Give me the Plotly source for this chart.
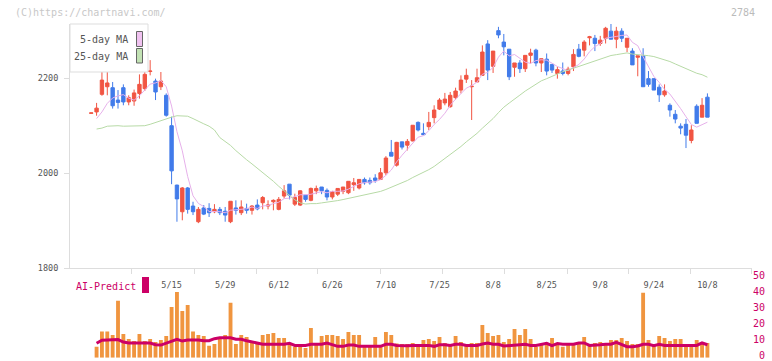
import plotly.graph_objects as go

W, H = 772, 361

# ---------------- data ----------------
opens  = [2126,2129,2166,2182,2180,2154,2180,2150,2152,2168,2178,2214,2194,2182,2164,2100,1975,1919,1969,1931,
          1898,1927,1926,1919,1924,1920,1898,1927,1917,1926,1922,1933,1938,1931,1940,1924,1952,1977,1935,1933,
          1954,1943,1963,1971,1964,1950,1956,1962,1959,1976,1969,1987,1985,1990,1987,2001,2044,2017,2066,2059,
          2068,2107,2084,2098,2117,2135,2148,2140,2159,2175,2198,2182,2192,2206,2272,2225,2300,2276,2261,2223,
          2232,2220,2248,2259,2232,2240,2229,2210,2215,2210,2224,2261,2259,2285,2284,2273,2284,2299,2282,2299,
          2265,2257,2244,2247,2199,2199,2181,2165,2143,2124,2099,2103,2069,2141,2118,2160]
highs  = [2127,2148,2215,2215,2192,2175,2187,2164,2176,2208,2215,2238,2199,2213,2168,2119,1976,1971,1971,1940,
          1929,1933,1937,1935,1929,1929,1941,1943,1943,1936,1933,1945,1952,1943,1945,1950,1975,1977,1957,1964,
          1954,1970,1974,1971,1968,1963,1968,1971,1983,1990,1987,1991,1991,1998,2011,2036,2070,2066,2066,2072,
          2101,2109,2105,2129,2143,2158,2169,2171,2180,2206,2220,2196,2220,2269,2280,2257,2308,2293,2261,2232,
          2238,2248,2262,2262,2241,2252,2229,2224,2233,2224,2261,2272,2280,2289,2291,2289,2308,2314,2308,2305,
          2284,2263,2247,2263,2215,2199,2187,2187,2147,2133,2105,2114,2101,2145,2158,2168]
lows   = [2126,2121,2163,2164,2136,2136,2143,2143,2142,2157,2173,2206,2154,2175,2119,1977,1898,1901,1915,1912,
          1895,1912,1908,1916,1912,1898,1895,1913,1912,1915,1913,1922,1924,1924,1922,1922,1947,1945,1931,1931,
          1940,1941,1956,1956,1943,1945,1952,1956,1956,1963,1966,1976,1976,1980,1987,1996,2036,2014,2050,2048,
          2067,2088,2081,2091,2105,2133,2143,2138,2155,2168,2190,2112,2192,2206,2196,2211,2284,2248,2196,2203,
          2211,2213,2231,2225,2213,2206,2211,2199,2206,2206,2215,2244,2246,2269,2257,2268,2273,2282,2263,2276,
          2255,2228,2204,2182,2182,2175,2150,2161,2119,2105,2082,2053,2063,2105,2118,2118]
closes = [2127,2137,2196,2190,2142,2149,2150,2159,2169,2187,2208,2215,2171,2194,2122,2005,1946,1969,1924,1919,
          1924,1914,1917,1924,1917,1912,1941,1922,1929,1922,1931,1925,1949,1933,1943,1945,1963,1954,1949,1963,
          1945,1968,1968,1963,1950,1961,1968,1971,1983,1980,1987,1980,1980,1985,2001,2032,2036,2065,2055,2067,
          2101,2091,2081,2107,2133,2154,2156,2164,2173,2196,2206,2183,2201,2255,2217,2257,2291,2266,2203,2232,
          2220,2248,2253,2232,2241,2215,2217,2218,2210,2219,2250,2246,2276,2287,2273,2280,2305,2282,2299,2284,
          2284,2228,2247,2182,2187,2175,2165,2173,2133,2114,2095,2080,2091,2105,2143,2118]

# moving-average values before a full window is available
ma5_head  = [None, 2115, 2129, 2147]
ma25_head = [None, 2093, 2095, 2099, 2100, 2100, 2099, 2099, 2099, 2099, 2100, 2103, 2107, 2110,
             2115, 2118, 2121, 2121, 2120, 2115, 2109, 2104, 2099, 2091]

volume = [None, 6.9, 16.3, 16.3, 14.2, 35.6, 14.8, 11.7, 10.4, 14.8, 10.4, 11.7, 9.8, 11.1, 13.6, 31.7,
          41.1, 29.2, 32.9, 16.3, 14.2, 13.6, 7.5, 8.6, 11.7, 14.2, 34.4, 8.6, 14.2, 13.0, 10.4, 9.7,
          14.2, 14.8, 15.4, 12.3, 12.3, 9.2, 6.9, 6.9, 6.1, 18.6, 8.8, 13.6, 14.2, 14.2, 13.6, 11.7,
          16.1, 14.2, 14.2, 6.9, 6.9, 12.9, 6.9, 16.1, 14.2, 8.8, 8.6, 8.6, 9.2, 7.9, 11.1, 11.7,
          10.4, 12.9, 9.2, 7.5, 13.6, 9.8, 7.5, 9.2, 9.2, 20.4, 15.4, 13.6, 14.2, 9.8, 11.7, 17.9,
          14.2, 17.9, 11.7, 6.9, 8.6, 9.2, 12.3, 8.6, 6.9, 7.9, 7.9, 9.0, 12.9, 7.3, 9.2, 9.8,
          7.9, 11.1, 11.1, 12.3, 10.4, 8.6, 8.6, 40.6, 11.1, 7.9, 13.6, 12.3, 10.4, 11.7, 11.7, 7.9,
          7.3, 11.1, 8.6, 9.2]
ai_predict = [None, 9.0, 10.9, 11.1, 11.1, 11.3, 9.8, 9.2, 9.2, 9.0, 9.2, 9.2, 8.1, 7.9, 9.2, 10.2,
              11.5, 10.4, 11.1, 11.1, 11.1, 10.6, 10.6, 11.9, 12.5, 12.5, 12.5, 11.5, 11.5, 10.6, 10.0, 9.4,
              8.4, 8.4, 8.4, 8.4, 8.4, 9.0, 7.7, 7.7, 7.7, 8.4, 8.4, 8.4, 9.2, 8.1, 7.1, 7.1,
              7.9, 7.9, 7.1, 7.1, 7.1, 7.1, 7.1, 8.4, 8.4, 7.7, 7.5, 7.5, 7.7, 7.7, 7.7, 7.7,
              7.1, 8.1, 8.1, 7.7, 8.4, 8.4, 7.7, 7.7, 7.7, 8.6, 9.2, 8.4, 8.4, 7.3, 7.7, 7.7,
              8.1, 8.4, 7.7, 7.7, 8.4, 9.0, 7.5, 8.8, 8.4, 8.4, 8.4, 9.2, 9.2, 7.7, 7.7, 8.1,
              8.4, 8.4, 9.6, 8.4, 6.9, 6.9, 7.3, 8.4, 8.4, 7.5, 8.4, 7.7, 7.7, 7.7, 7.7, 7.7,
              7.7, 7.7, 9.2, 8.1]

date_pos    = [15, 25, 35, 45, 55, 65, 75, 85, 95, 105, 115]
date_labels = ["5/15", "5/29", "6/12", "6/26", "7/10", "7/25", "8/8", "8/25", "9/8", "9/24", "10/8"]
grid_ticks  = [7.6, 19.2, 30.8, 42.3, 53.9, 65.5, 77.1, 88.8, 100.2, 111.8, 123.3]
price_ticks = [1800, 2000, 2200]
ai_ticks    = [0, 10, 20, 30, 40, 50]
ai_ticktext = ["\u00a00", "10", "20", "30", "40", "50"]

# ---------------- helpers ----------------
idx = list(range(len(closes)))


def moving_average(vals, window, head):
    out = []
    for i in range(len(vals)):
        if i < len(head):
            out.append(head[i])
        else:
            out.append(sum(vals[i - window + 1:i + 1]) / window)
    return out


ma5 = moving_average(closes, 5, ma5_head)
ma25 = moving_average(closes, 25, ma25_head)


def px(x):
    return x / W


def py(y):
    return 1 - y / H


MONO = "DejaVu Sans Mono"
RED = "#F15543"
BLUE = "#417BEA"
CRIMSON = "#CC0066"
GRID = "#dddddd"

fig = go.Figure()

fig.add_trace(go.Candlestick(
    x=idx, open=opens, high=highs, low=lows, close=closes,
    increasing=dict(line=dict(color=RED, width=1), fillcolor=RED),
    decreasing=dict(line=dict(color=BLUE, width=1), fillcolor=BLUE),
    whiskerwidth=0, xaxis="x", yaxis="y", showlegend=False, hoverinfo="skip"))

fig.add_trace(go.Scatter(x=idx, y=ma5, mode="lines", line=dict(color="#E6B0EA", width=1),
                         xaxis="x", yaxis="y", showlegend=False, hoverinfo="skip"))
fig.add_trace(go.Scatter(x=idx, y=ma25, mode="lines", line=dict(color="#B7DAA6", width=1),
                         xaxis="x", yaxis="y", showlegend=False, hoverinfo="skip"))

fig.add_trace(go.Bar(x=idx, y=volume, marker=dict(color="#F0953F", line=dict(width=0)), width=0.72,
                     xaxis="x2", yaxis="y2", showlegend=False, hoverinfo="skip"))
fig.add_trace(go.Scatter(x=idx, y=ai_predict, mode="lines", line=dict(color=CRIMSON, width=3),
                         xaxis="x2", yaxis="y2", showlegend=False, hoverinfo="skip"))

xr = [-3.96, 123.32]
xdom = [px(70), px(752)]

fig.update_layout(
    width=W, height=H,
    margin=dict(l=0, r=0, t=0, b=0, autoexpand=False),
    paper_bgcolor="white", plot_bgcolor="white",
    boxgap=0.1,
    xaxis=dict(domain=xdom, range=xr, anchor="y", showline=True, linecolor=GRID, linewidth=1,
               tickmode="array", tickvals=date_pos, ticktext=date_labels, ticks="",
               tickfont=dict(family=MONO, size=8.5, color="#555555"), ticklabelstandoff=8,
               showgrid=False, zeroline=False, rangeslider=dict(visible=False), fixedrange=True,
               automargin=False,
               minor=dict(tickmode="array", tickvals=grid_ticks, ticks="outside", ticklen=5,
                          tickcolor=GRID, showgrid=False)),
    yaxis=dict(domain=[py(268.3), py(24)], range=[1800, 2314], anchor="x", showline=True,
               linecolor=GRID, linewidth=1, tickmode="array", tickvals=price_ticks, ticks="outside",
               ticklen=5, tickcolor=GRID, tickfont=dict(family=MONO, size=8.5, color="#555555"),
               ticklabelstandoff=4, showgrid=False, zeroline=False, fixedrange=True, automargin=False),
    xaxis2=dict(domain=xdom, range=xr, anchor="y2", visible=False, fixedrange=True, automargin=False),
    yaxis2=dict(domain=[py(357.7), py(277.7)], range=[0, 50], anchor="x2", side="right",
                tickmode="array", tickvals=ai_ticks, ticktext=ai_ticktext, ticks="",
                tickfont=dict(family=MONO, size=10, color=CRIMSON), ticklabelstandoff=0,
                ticklabeloverflow="allow", ticklabelshift=-2,
                showline=False, showgrid=False, zeroline=False, fixedrange=True, automargin=False),
)

shapes = [
    dict(type="rect", xref="paper", yref="paper", x0=px(70), x1=px(148), y0=py(72), y1=py(24),
         line=dict(color=GRID, width=1), fillcolor="white", layer="above"),
    dict(type="rect", xref="paper", yref="paper", x0=px(136.5), x1=px(142.5), y0=py(46.5), y1=py(31.5),
         line=dict(color="#666666", width=1), fillcolor="#F0C2F0", layer="above"),
    dict(type="rect", xref="paper", yref="paper", x0=px(136.5), x1=px(142.5), y0=py(63), y1=py(48.5),
         line=dict(color="#666666", width=1), fillcolor="#C2E2B4", layer="above"),
    dict(type="rect", xref="paper", yref="paper", x0=px(142), x1=px(149), y0=py(293), y1=py(277),
         line=dict(width=0), fillcolor=CRIMSON, layer="above"),
]
fig.update_layout(shapes=shapes)

annotations = [
    dict(text="5-day MA", x=px(130), y=py(39.5), xanchor="right", yanchor="middle",
         font=dict(family=MONO, size=10, color="#555555")),
    dict(text="25-day MA", x=px(130), y=py(56.5), xanchor="right", yanchor="middle",
         font=dict(family=MONO, size=10, color="#555555")),
    dict(text="AI-Predict", x=px(74), y=py(286), xanchor="left", yanchor="middle",
         font=dict(family=MONO, size=10, color=CRIMSON)),
    dict(text="(C)https://chartnavi.com/", x=px(13), y=py(12.5), xanchor="left", yanchor="middle",
         font=dict(family=MONO, size=10, color="#C8C8C8")),
    dict(text="2784", x=px(757), y=py(12), xanchor="right", yanchor="middle",
         font=dict(family=MONO, size=10, color="#BBBBBB")),
]
for a in annotations:
    a.update(xref="paper", yref="paper", showarrow=False)
fig.update_layout(annotations=annotations)

fig.write_html("out.html", config={"displayModeBar": False},
               post_script="document.body.style.margin='0';document.body.style.overflow='hidden';")
